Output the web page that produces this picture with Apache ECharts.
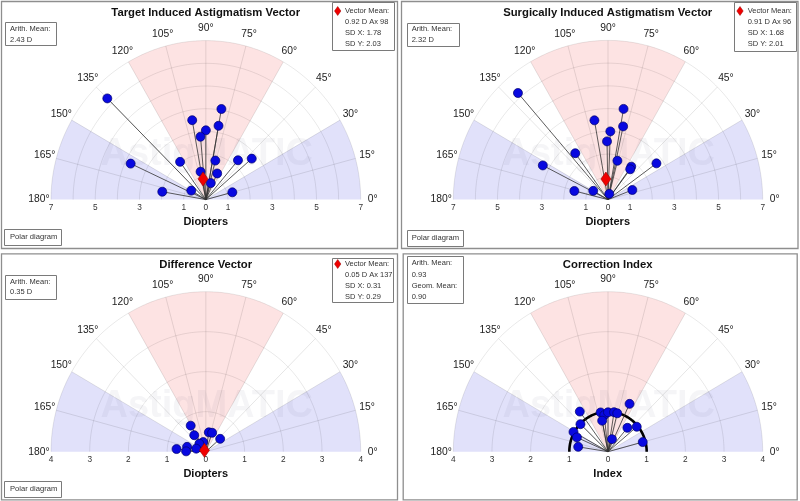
<!DOCTYPE html>
<html>
<head>
<meta charset="utf-8">
<script src="https://cdn.jsdelivr.net/npm/echarts@6/dist/echarts.min.js"></script>
<style>
html, body { margin: 0; padding: 0; background: #fff; }
#chart { width: 800px; height: 501px; }
</style>
</head>
<body>
<div id="chart"></div>
<script>
// magnitudes (D or index) and axes (deg)
const tiaMag = [6.30, 4.05, 3.55, 3.30, 3.05, 2.78, 3.75, 2.03, 1.77, 2.26, 2.75, 1.25, 1.26, 0.76, 2.00, 0.77, 1.24];
const tiaAx  = [135, 80, 100, 80, 90, 95, 155, 125, 76, 50, 41, 101, 66, 73, 170, 149, 15];
const tiaMean = [0.92, 98];

const siaMag = [6.21, 4.05, 3.54, 3.29, 3.00, 2.56, 2.52, 1.76, 2.71, 3.31, 1.79, 1.67, 1.57, 0.77, 1.18, 0.26];
const siaAx  = [131, 80, 100, 78, 88, 91, 126, 76, 36, 153, 54, 53, 166, 150, 21, 77];
const siaMean = [0.91, 96];

const dvMag = [0.76, 0.51, 0.49, 0.50, 0.49, 0.25, 0.26, 0.50, 0.76, 0.51, 0.26];
const dvAx  = [121, 126, 81, 71, 41, 106, 130, 166, 175, 179, 163];
const dvMean = [0.05, 137];

const ciMag = [1.24, 1.32, 1.00, 0.92, 0.985, 1.00, 0.99, 0.79, 0.99, 0.78, 0.97, 1.02, 0.88, 0.33, 0.93, 0.78];
const ciAx  = [126, 65, 101, 96, 90, 81, 76, 101, 136, 50, 40, 151, 156, 72, 15, 171];

const angleTicks = [0, 15, 30, 45, 60, 75, 90, 105, 120, 135, 150, 165, 180];
const pinkBands = [[60, 120]];
const blueBands = [[0, 30], [150, 180]];

const FONT = "'Liberation Sans', Arial, sans-serif";

const panels = [
  {
    title: 'Target Induced Astigmatism Vector', mag: tiaMag, ax: tiaAx, mean: tiaMean,
    maxR: 7, oddTicks: true, axisName: 'Diopters',
    grid: { left: 51, top: 40.6, width: 309.7, height: 159 },
    frame: [1, 1, 397, 248], cx: 205.7,
    left: { box: [4.7, 22, 56, 45], x: 10, ys: [28.7, 39.7], lines: ['Arith. Mean:', '2.43 D'] },
    right: { box: [332.3, 1.5, 394, 49.3], x: 345, ys: [11, 22, 33.3, 44.3], dx: 337.7,
             lines: ['Vector Mean:', '0.92 D Ax 98', 'SD X: 1.78', 'SD Y: 2.03'] },
    polar: { box: [4.3, 229.3, 61, 245], x: 10, y: 237 },
    titleY: 13, nameY: 222, markY: 155
  },
  {
    title: 'Surgically Induced Astigmatism Vector', mag: siaMag, ax: siaAx, mean: siaMean,
    maxR: 7, oddTicks: true, axisName: 'Diopters',
    grid: { left: 453.3, top: 40.4, width: 309.4, height: 159.2 },
    frame: [401, 1, 797.5, 248], cx: 607.7,
    left: { box: [406.7, 22.5, 459, 45], x: 411.7, ys: [28.7, 39.7], lines: ['Arith. Mean:', '2.32 D'] },
    right: { box: [734.3, 1.5, 796.5, 50], x: 747.7, ys: [11, 22.3, 33.3, 44.3], dx: 740,
             lines: ['Vector Mean:', '0.91 D Ax 96', 'SD X: 1.68', 'SD Y: 2.01'] },
    polar: { box: [406.7, 229.5, 462.7, 245.5], x: 411.7, y: 237.5 },
    titleY: 13, nameY: 221.7, markY: 155
  },
  {
    title: 'Difference Vector', mag: dvMag, ax: dvAx, mean: dvMean,
    maxR: 4, oddTicks: false, axisName: 'Diopters',
    grid: { left: 51, top: 291.7, width: 309.7, height: 160 },
    frame: [1, 253.3, 397, 499.3], cx: 205.7,
    left: { box: [4.7, 275.3, 56, 299], x: 10, ys: [281.7, 292.3], lines: ['Arith. Mean:', '0.35 D'] },
    right: { box: [332.3, 258.3, 393.3, 302.7], x: 345, ys: [264, 275.3, 286, 297], dx: 337.7,
             lines: ['Vector Mean:', '0.05 D Ax 137', 'SD X: 0.31', 'SD Y: 0.29'] },
    polar: { box: [4.3, 480.7, 61, 496.7], x: 10, y: 489 },
    titleY: 265, nameY: 474.3, markY: 406.7
  },
  {
    title: 'Correction Index', mag: ciMag, ax: ciAx, mean: null,
    maxR: 4, oddTicks: false, axisName: 'Index', unitCircle: true,
    grid: { left: 453.3, top: 291.7, width: 309.4, height: 160 },
    frame: [402.7, 253.3, 796.7, 499.3], cx: 607.7,
    left: { box: [406.7, 255.7, 462.3, 302.3], x: 411.7, ys: [263.3, 274.7, 286, 297],
            lines: ['Arith. Mean:', '0.93', 'Geom. Mean:', '0.90'] },
    right: null, polar: null,
    titleY: 265, nameY: 474.3, markY: 406.7
  }
];

function polarXY(r, deg) {
  const t = deg * Math.PI / 180;
  return [r * Math.cos(t), r * Math.sin(t)];
}

function bandSeries(i, R, bands, color) {
  return {
    type: 'custom', xAxisIndex: i, yAxisIndex: i, z: 0, silent: true,
    data: bands,
    renderItem: function (params, api) {
      const a0 = api.value(0), a1 = api.value(1);
      const pts = [api.coord([0, 0])];
      for (let a = a0; a <= a1 + 1e-6; a += 1) pts.push(api.coord(polarXY(R, a)));
      return { type: 'polygon', shape: { points: pts }, style: { fill: color } };
    }
  };
}

const series = [];
const graphics = [];

panels.forEach(function (p, i) {
  const R = p.maxR;
  series.push(bandSeries(i, R, blueBands, '#e1e1fa'));
  series.push(bandSeries(i, R, pinkBands, '#fde3e3'));

  // rings
  const rings = [];
  for (let r = 1; r <= R; r++) rings.push([r]);
  series.push({
    type: 'custom', xAxisIndex: i, yAxisIndex: i, z: 2, silent: true,
    data: rings,
    renderItem: function (params, api) {
      const r = api.value(0);
      const pts = [];
      for (let a = 0; a <= 180; a += 1) pts.push(api.coord(polarXY(r, a)));
      return { type: 'polyline', shape: { points: pts }, style: { stroke: 'rgba(0,0,0,0.09)', lineWidth: 1, fill: null } };
    }
  });
  // spokes
  series.push({
    type: 'custom', xAxisIndex: i, yAxisIndex: i, z: 2, silent: true,
    data: angleTicks.slice(1, -1).map(function (a) { return [a]; }),
    renderItem: function (params, api) {
      const a = api.value(0);
      const c0 = api.coord([0, 0]);
      const c1 = api.coord(polarXY(R, a));
      return { type: 'line', shape: { x1: c0[0], y1: c0[1], x2: c1[0], y2: c1[1] }, style: { stroke: 'rgba(0,0,0,0.1)', lineWidth: 1 } };
    }
  });
  // angle labels
  series.push({
    type: 'custom', xAxisIndex: i, yAxisIndex: i, z: 4, silent: true,
    data: angleTicks.map(function (a) { return [a]; }),
    renderItem: function (params, api) {
      const a = api.value(0);
      const c = api.coord(polarXY(R * 1.078, a));
      return { type: 'text', x: c[0], y: c[1],
        style: { text: a + '°', fill: '#222', font: '10.3px ' + FONT, align: 'center', verticalAlign: 'middle' } };
    }
  });

  const pts = p.mag.map(function (m, k) { return polarXY(m, p.ax[k]); });

  if (p.unitCircle) {
    series.push({
      type: 'custom', xAxisIndex: i, yAxisIndex: i, z: 3, silent: true,
      data: [[1]],
      renderItem: function (params, api) {
        const q = [];
        for (let a = 0; a <= 180; a += 1) q.push(api.coord(polarXY(api.value(0), a)));
        return { type: 'polyline', shape: { points: q }, style: { stroke: '#000', lineWidth: 2.6, fill: null } };
      }
    });
  }
  // vectors from origin
  series.push({
    type: 'custom', xAxisIndex: i, yAxisIndex: i, z: 3, silent: true,
    data: pts,
    renderItem: function (params, api) {
      const c0 = api.coord([0, 0]);
      const c1 = api.coord([api.value(0), api.value(1)]);
      return { type: 'line', shape: { x1: c0[0], y1: c0[1], x2: c1[0], y2: c1[1] }, style: { stroke: '#333', lineWidth: 0.8 } };
    }
  });
  series.push({
    type: 'scatter', xAxisIndex: i, yAxisIndex: i, z: 5, silent: true,
    symbol: 'circle', symbolSize: 9,
    itemStyle: { color: '#0808e0', borderColor: '#00006a', borderWidth: 0.7, opacity: 1 },
    data: pts
  });
  if (p.mean) {
    series.push({
      type: 'scatter', xAxisIndex: i, yAxisIndex: i, z: 6, silent: true,
      symbol: 'diamond', symbolSize: [10, 14],
      itemStyle: { color: '#f00000', borderColor: '#900', borderWidth: 0.6, opacity: 1 },
      data: [polarXY(p.mean[0], p.mean[1])]
    });
  }

  // frame, titles, boxes
  const f = p.frame;
  graphics.push({ type: 'rect', z: 10, silent: true, shape: { x: f[0] + 0.5, y: f[1] + 0.5, width: f[2] - f[0], height: f[3] - f[1] },
    style: { fill: null, stroke: '#8e8e8e', lineWidth: 1.3 } });
  graphics.push({ type: 'text', z: 10, x: p.cx, y: p.titleY, silent: true,
    style: { text: p.title, font: 'bold 11.3px ' + FONT, fill: '#111', align: 'center', verticalAlign: 'middle' } });
  graphics.push({ type: 'text', z: 10, x: p.cx, y: p.nameY, silent: true,
    style: { text: p.axisName, font: 'bold 11px ' + FONT, fill: '#111', align: 'center', verticalAlign: 'middle' } });
  graphics.push({ type: 'text', z: 1, x: p.cx + 1, y: p.markY, silent: true,
    style: { text: 'AstigMATIC', font: 'bold 38px ' + FONT, fill: 'rgba(60,60,100,0.05)', align: 'center', verticalAlign: 'middle' } });

  function addBox(b) {
    graphics.push({ type: 'rect', z: 10, silent: true,
      shape: { x: Math.round(b[0]) + 0.5, y: Math.round(b[1]) + 0.5, width: Math.round(b[2] - b[0]), height: Math.round(b[3] - b[1]) },
      style: { fill: '#fff', stroke: '#7a7a7a', lineWidth: 1 } });
  }
  function addLines(bx) {
    bx.lines.forEach(function (t, k) {
      graphics.push({ type: 'text', z: 11, x: bx.x, y: bx.ys[k], silent: true,
        style: { text: t, font: '7.5px ' + FONT, fill: '#333', align: 'left', verticalAlign: 'middle' } });
    });
  }
  addBox(p.left.box); addLines(p.left);
  if (p.right) {
    addBox(p.right.box); addLines(p.right);
    const dx = p.right.dx, dy = p.right.ys[0];
    graphics.push({ type: 'polygon', z: 11, silent: true,
      shape: { points: [[dx, dy - 4.5], [dx + 3.2, dy], [dx, dy + 4.5], [dx - 3.2, dy]] },
      style: { fill: '#f00000', stroke: '#900', lineWidth: 0.5 } });
  }
  if (p.polar) {
    addBox(p.polar.box);
    graphics.push({ type: 'text', z: 11, x: p.polar.x, y: p.polar.y, silent: true,
      style: { text: 'Polar diagram', font: '7.6px ' + FONT, fill: '#333', align: 'left', verticalAlign: 'middle' } });
  }
});

const option = {
  animation: false,
  backgroundColor: '#fff',
  grid: panels.map(function (p) { return Object.assign({ containLabel: false }, p.grid); }),
  xAxis: panels.map(function (p, i) {
    return {
      gridIndex: i, type: 'value', min: -p.maxR, max: p.maxR, interval: 1,
      axisLine: { show: false }, axisTick: { show: false }, splitLine: { show: false },
      axisLabel: {
        margin: 4, fontSize: 8.3, color: '#333', fontFamily: FONT,
        showMinLabel: true, showMaxLabel: true,
        formatter: function (v) {
          const a = Math.abs(Math.round(v));
          if (p.oddTicks && a !== 0 && a % 2 === 0) return '';
          return String(a);
        }
      }
    };
  }),
  yAxis: panels.map(function (p, i) {
    return { gridIndex: i, type: 'value', min: 0, max: p.maxR, show: false };
  }),
  series: series,
  graphic: { elements: graphics }
};

const chart = echarts.init(document.getElementById('chart'));
chart.setOption(option);
</script>
</body>
</html>
